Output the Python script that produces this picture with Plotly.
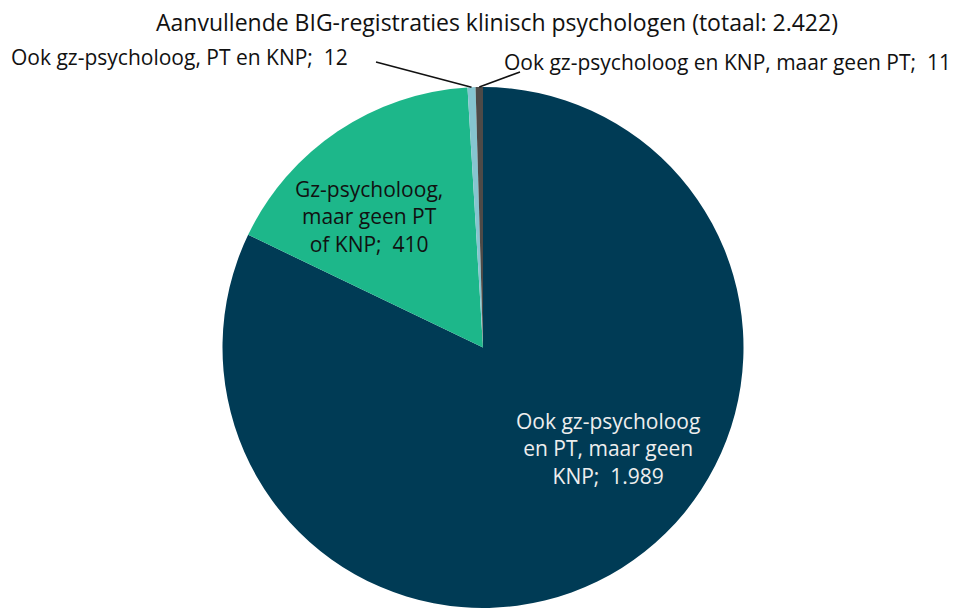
import math
import plotly.graph_objects as go

# ---- data ----
labels = [
    "Ook gz-psycholoog en PT, maar geen KNP",
    "Gz-psycholoog, maar geen PT of KNP",
    "Ook gz-psycholoog, PT en KNP",
    "Ook gz-psycholoog en KNP, maar geen PT",
]
label_lines = [
    ["Ook gz-psycholoog", "en PT, maar geen", "KNP;"],
    ["Gz-psycholoog,", "maar geen PT", "of KNP;"],
    ["Ook gz-psycholoog, PT en KNP;"],
    ["Ook gz-psycholoog en KNP, maar geen PT;"],
]
values = [1989, 410, 12, 11]
colors = ["#003B55", "#1DB78A", "#86C5D0", "#4E4A47"]
title_text = "Aanvullende BIG-registraties klinisch psychologen (totaal: {})"

W, H = 955, 608
FONT = "'Open Sans', sans-serif"

def nl(v):
    return f"{v:,}".replace(",", ".")

def lab(i):
    lines = list(label_lines[i])
    lines[-1] = lines[-1] + "  " + nl(values[i])
    return "<br>".join(lines)

# pie geometry (pixels)
cx, cy, r = 483.0, 347.5, 260.5
dom_x = [(cx - r) / W, (cx + r) / W]
dom_y = [0.0, (2 * r) / H]

fig = go.Figure(go.Pie(
    labels=labels, values=values, sort=False, direction="clockwise",
    rotation=0, marker=dict(colors=colors, line=dict(width=0)),
    textinfo="none", showlegend=False, hoverinfo="label+value",
    domain=dict(x=dom_x, y=dom_y),
))

total = sum(values)

def edge_point(i):
    before = sum(values[:i])
    frac = (before + values[i] / 2) / total
    th = 2 * math.pi * frac
    x = cx + r * math.sin(th)
    y = cy - r * math.cos(th)
    return x / W, 1 - y / H

def px(x, y):
    return x / W, 1 - y / H

def ann(text, x, y, xanchor, size, color):
    ax_, ay_ = px(x, y)
    return dict(text=text, x=ax_, y=ay_, xref="paper", yref="paper", showarrow=False,
                xanchor=xanchor, yanchor="middle",
                font=dict(size=size, color=color, family=FONT))

annotations = [
    ann(title_text.format(nl(total)), 497, 22, "center", 23, "#111111"),
    ann(lab(0), 608, 448, "center", 21, "#EEEEEE"),
    ann(lab(1), 369, 217, "center", 21, "#111111"),
    ann(lab(2), 9, 57, "left", 21, "#111111"),
    ann(lab(3), 953, 62, "right", 21, "#111111"),
]

shapes = []
for i, tail in [(2, (376, 62)), (3, (520, 72))]:
    ex, ey = edge_point(i)
    tx0, ty0 = px(*tail)
    shapes.append(dict(type="line", xref="paper", yref="paper", x0=tx0, y0=ty0, x1=ex, y1=ey,
                       line=dict(color="#111111", width=1.6)))

fig.update_layout(
    width=W, height=H, margin=dict(l=0, r=0, t=0, b=0),
    paper_bgcolor="white", plot_bgcolor="white",
    annotations=annotations, shapes=shapes,
    font=dict(family=FONT),
)

fig.write_html("out.html", config={"displayModeBar": False},
               post_script="document.body.style.margin='0px';")
